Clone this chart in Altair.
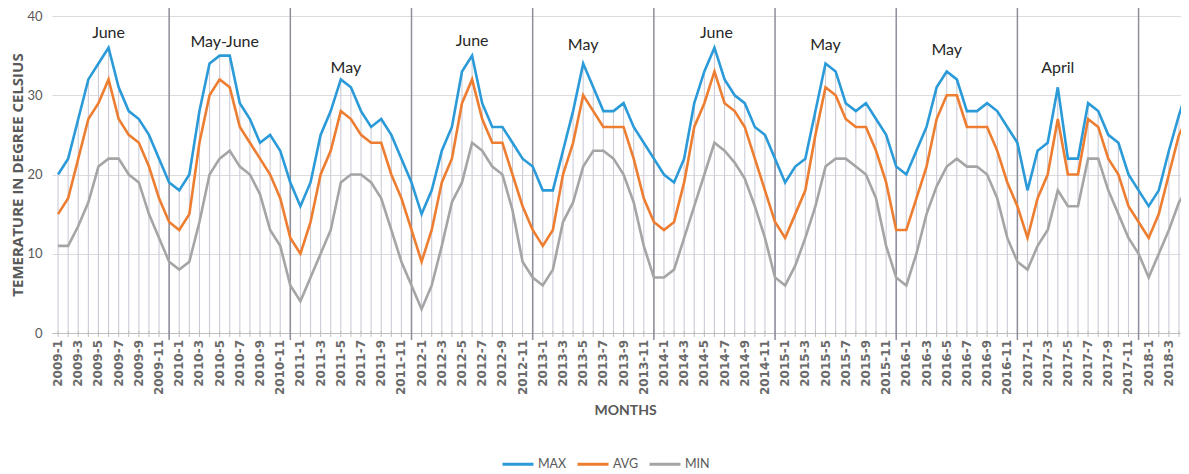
import altair as alt
import pandas as pd

# ---------------- data ----------------
max_vals = [
    20, 22, 27, 32, 34, 36, 31, 28, 27, 25, 22, 19,   # 2009
    18, 20, 28, 34, 35, 35, 29, 27, 24, 25, 23, 19,   # 2010
    16, 19, 25, 28, 32, 31, 28, 26, 27, 25, 22, 19,   # 2011
    15, 18, 23, 26, 33, 35, 29, 26, 26, 24, 22, 21,   # 2012
    18, 18, 23, 28, 34, 31, 28, 28, 29, 26, 24, 22,   # 2013
    20, 19, 22, 29, 33, 36, 32, 30, 29, 26, 25, 22,   # 2014
    19, 21, 22, 28, 34, 33, 29, 28, 29, 27, 25, 21,   # 2015
    20, 23, 26, 31, 33, 32, 28, 28, 29, 28, 26, 24,   # 2016
    18, 23, 24, 31, 22, 22, 29, 28, 25, 24, 20, 18,   # 2017
    16, 18, 23, 27.5, 31.5,                           # 2018
]
avg_vals = [
    15, 17, 22, 27, 29, 32, 27, 25, 24, 21, 17, 14,
    13, 15, 24, 30, 32, 31, 26, 24, 22, 20, 17, 12,
    10, 14, 20, 23, 28, 27, 25, 24, 24, 20, 17, 13,
    9, 13, 19, 22, 29, 32, 27, 24, 24, 20, 16, 13,
    11, 13, 20, 24, 30, 28, 26, 26, 26, 22, 17, 14,
    13, 14, 19, 26, 29, 33, 29, 28, 26, 22, 18, 14,
    12, 15, 18, 25, 31, 30, 27, 26, 26, 23, 19, 13,
    13, 17, 21, 27, 30, 30, 26, 26, 26, 23, 19, 16,
    12, 17, 20, 27, 20, 20, 27, 26, 22, 20, 16, 14,
    12, 15, 20, 25, 27.5,
]
min_vals = [
    11, 11, 13.5, 16.5, 21, 22, 22, 20, 19, 15, 12, 9,
    8, 9, 14, 20, 22, 23, 21, 20, 17.5, 13, 11, 6,
    4, 7, 10, 13, 19, 20, 20, 19, 17, 13, 9, 6,
    3, 6, 11, 16.5, 19, 24, 23, 21, 20, 15.5, 9, 7,
    6, 8, 14, 16.5, 21, 23, 23, 22, 20, 16.5, 11, 7,
    7, 8, 12, 16, 20, 24, 23, 21.5, 19.5, 16, 12, 7,
    6, 8.5, 12, 16, 21, 22, 22, 21, 20, 17, 11, 7,
    6, 10, 15, 18.5, 21, 22, 21, 21, 20, 17, 12, 9,
    8, 11, 13, 18, 16, 16, 22, 22, 18, 15, 12, 10,
    7, 10, 13, 16.5, 18.5,
]
start_year = 2009
series_names = ["MAX", "AVG", "MIN"]
series_colors = ["#2B9AD8", "#ED7D31", "#A5A5A5"]

ann_labels = ["June", "May-June", "May", "June", "May", "June", "May", "May", "April"]
ann_idx = [5, 16.5, 28.5, 41, 52, 65.2, 76, 88, 99]
ann_y = [37.8, 36.7, 33.5, 36.9, 36.3, 37.8, 36.3, 35.7, 33.4]

y_ticks = [0, 5, 10, 15, 20, 25, 30, 35, 40]

n = len(max_vals)
month_labels = [f"{start_year + i // 12}-{i % 12 + 1}" for i in range(n)]

rows = []
for i in range(n):
    for name, arr in zip(series_names, (max_vals, avg_vals, min_vals)):
        rows.append({"idx": i, "month": month_labels[i], "series": name, "value": arr[i]})
df = pd.DataFrame(rows)
drop_df = pd.DataFrame({"idx": list(range(n)), "top": max_vals, "zero": [0] * n})
year_df = pd.DataFrame({"idx": [11 + 12 * k for k in range((n - 1) // 12)]})
ann_df = pd.DataFrame({"label": ann_labels, "idx": ann_idx, "value": ann_y})

FONT = "Lato"
GREY_TXT = "#595959"
W, H = 1129, 317
X_MAX = 111.2

label_values = [i for i in range(0, n) if i % 2 == 0 and i <= X_MAX]
lab_df = pd.DataFrame({"idx": label_values, "label": [month_labels[i] for i in label_values]})

x_scale = alt.Scale(domain=[-0.6, X_MAX], nice=False, zero=False)
y_scale = alt.Scale(domain=[0, 40], nice=False)

x_axis = alt.Axis(
    values=label_values, labels=False, ticks=False, grid=False,
    title="MONTHS", titleFont=FONT, titleFontSize=14, titleFontWeight="bold",
    titleColor=GREY_TXT, titleX=573, titleY=77, titleBaseline="middle",
    domainColor="#BFBFBF",
)
y_axis = alt.Axis(
    values=y_ticks,
    labelFont=FONT, labelFontSize=13, labelColor=GREY_TXT, labelPadding=10,
    domain=False, ticks=False, grid=True, gridColor="#DCDCE0", gridWidth=1,
    title="TEMERATURE IN DEGREE CELSIUS", titleFont="Open Sans", titleFontSize=15,
    titleFontWeight="bold", titleColor=GREY_TXT, titleX=-35, titleY=H / 2,
    titleAngle=270, titleAlign="center", titleBaseline="middle",
)

drops = alt.Chart(drop_df).mark_rule(color="#CBCCD8", strokeWidth=1.1, clip=True).encode(
    x=alt.X("idx:Q", scale=x_scale, axis=x_axis),
    y=alt.Y("top:Q", scale=y_scale, axis=y_axis),
    y2="zero:Q",
)

month_ticks = alt.Chart(drop_df).mark_rule(color="#BFBFBF", strokeWidth=1).transform_filter(
    alt.datum.idx <= X_MAX
).encode(
    x=alt.X("idx:Q", scale=x_scale),
    y=alt.value(H - 2),
    y2=alt.value(H + 4),
)

month_text = alt.Chart(lab_df).mark_text(
    angle=270, align="right", baseline="middle",
    font="DejaVu Sans", fontSize=12, fontWeight="bold", color="#6A6A6A",
).encode(
    x=alt.X("idx:Q", scale=x_scale),
    y=alt.value(H + 7),
    text="label:N",
)

years = alt.Chart(year_df).mark_rule(color="#8E8E9C", strokeWidth=1.5).encode(
    x=alt.X("idx:Q", scale=x_scale),
    y=alt.value(-10),
    y2=alt.value(H + 7),
)

lines = alt.Chart(df).mark_line(strokeWidth=2.6, clip=True).encode(
    x=alt.X("idx:Q", scale=x_scale),
    y=alt.Y("value:Q", scale=y_scale),
    color=alt.Color(
        "series:N",
        scale=alt.Scale(domain=series_names, range=series_colors),
        sort=series_names,
        legend=alt.Legend(
            orient="none", legendX=449, legendY=431, direction="horizontal",
            title=None, symbolType="stroke", symbolSize=961, symbolStrokeWidth=3,
            labelFont=FONT, labelFontSize=12.5, labelColor=GREY_TXT,
            columnPadding=4, labelOffset=3,
        ),
    ),
    order=alt.Order("series:N", sort="ascending"),
)

ann = alt.Chart(ann_df).mark_text(
    font=FONT, fontSize=16, color="#262626", baseline="middle", align="center"
).encode(
    x=alt.X("idx:Q", scale=x_scale),
    y=alt.Y("value:Q", scale=y_scale),
    text="label:N",
)

chart = alt.layer(drops, month_ticks, years, lines, ann, month_text).properties(
    width=W, height=H,
    autosize=alt.AutoSizeParams(type="none"),
    padding={"left": 44, "top": 8, "right": 0, "bottom": 140},
    background="white",
).configure_view(stroke=None)

chart.save("out.html", embed_options={"renderer": "svg", "actions": False})
